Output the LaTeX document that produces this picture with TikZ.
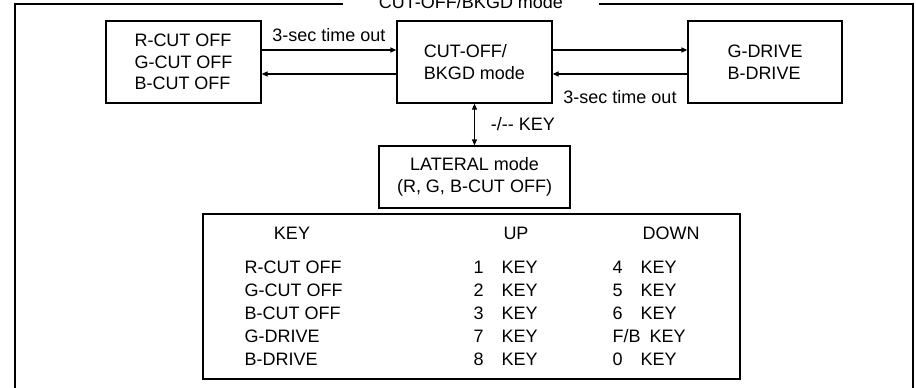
\documentclass[tikz,border=0pt]{standalone}
\usepackage{fontspec}
\setmainfont{Liberation Sans}
\usetikzlibrary{arrows.meta}
\begin{document}
\begin{tikzpicture}[x=1pt, y=-1pt, line width=1.2pt,
  every node/.style={font=\fontsize{18}{21.5}\selectfont},
  box/.style={draw, inner sep=0pt, align=left},
  cell/.style={anchor=west, inner sep=0pt},
  tip/.style={-{Triangle[length=6pt,width=5pt]}}]
\useasboundingbox (0,0) rectangle (916,388);
% outer frame with its title
\node[anchor=base] (title) at (471,8.5) {CUT-OFF/BKGD mode};
\draw (343,4) -- (15,4) -- (15,396);
\draw (599,4) -- (913,4) -- (913,396);
% mode boxes
\node[box, minimum width=155pt, minimum height=82pt] (cutoff) at (183.5,62) {R-CUT OFF\\G-CUT OFF\\B-CUT OFF};
\node[box, minimum width=155pt, minimum height=82pt] (mode) at (474.5,62) {CUT-OFF/\\BKGD mode};
\node[box, minimum width=154pt, minimum height=82pt] (drive) at (765,62) {G-DRIVE\\B-DRIVE};
\node[box, align=center, minimum width=191pt, minimum height=62pt] (lateral) at (474.5,177) {LATERAL mode\\(R, G, B-CUT OFF)};
\draw[tip] ([yshift=12pt]cutoff.east) -- node[above, yshift=4.5pt] (tout1) {3-sec time out} ([yshift=12pt]mode.west);
\draw[tip] ([yshift=-12pt]mode.west) -- ([yshift=-12pt]cutoff.east);
\draw[tip] ([yshift=12pt]mode.east) -- ([yshift=12pt]drive.west);
\draw[tip] ([yshift=-12pt]drive.west) -- node[below, yshift=-12.5pt] (tout2) {3-sec time out} ([yshift=-12pt]mode.east);
\draw[{Triangle[length=6pt,width=5pt]}-{Triangle[length=6pt,width=5pt]}] (mode.south) -- node[right, xshift=12.5pt] (keylbl) {-/-{}- KEY} (lateral.north);
% key table
\node[draw, minimum width=537pt, minimum height=165pt] (keytab) at (471.5,296.5) {};
\node (hkey) at (292,233) {KEY};
\node (hup) at (516,233) {UP};
\node (hdown) at (671,233) {DOWN};
\foreach \name/\up/\down [count=\i] in {R-CUT OFF/1/4\quad KEY, G-CUT OFF/2/5\quad KEY, B-CUT OFF/3/6\quad KEY, G-DRIVE/7/{F/B\enspace KEY}, B-DRIVE/8/0\quad KEY} {
  \node[cell] (row\i) at (244,244+23*\i) {\name};
  \node[cell] (up\i) at (473,244+23*\i) {\up\quad KEY};
  \node[cell] (down\i) at (612,244+23*\i) {\down};
}
\end{tikzpicture}
\end{document}
